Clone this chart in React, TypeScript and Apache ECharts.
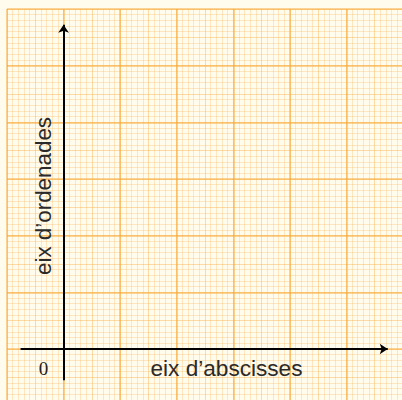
import React, { useEffect, useRef } from "react";
import * as echarts from "echarts";

const xRange = [-1, 6];
const yRange = [-1, 6];
const xAxisSegment = [[-0.76, 0], [5.73, 0]];
const yAxisSegment = [[0, -0.55], [0, 5.72]];
const xTitle = "eix d\u2019abscisses";
const yTitle = "eix d\u2019ordenades";
const originLabel = "0";

const minorColor = "rgba(250,165,50,0.24)";
const mediumColor = "rgba(250,165,50,0.38)";
const majorColor = "rgba(248,165,45,0.62)";

function paperAxis(dir: "x" | "y", range: number[], level: "fine" | "major") {
  const base: any = {
    type: "value",
    min: range[0],
    max: range[1],
    interval: level === "fine" ? 0.5 : 1,
    axisLine: { show: false },
    axisTick: { show: false },
    axisLabel: { show: false },
    splitLine: {
      show: true,
      lineStyle: { color: level === "fine" ? mediumColor : majorColor, width: level === "fine" ? 1 : 1.6 },
    },
    z: level === "fine" ? 0 : 1,
  };
  if (level === "fine") {
    base.minorTick = { show: false, splitNumber: 5 };
    base.minorSplitLine = { show: true, lineStyle: { color: minorColor, width: 1 } };
  }
  return base;
}

export default function App() {
  const ref = useRef<HTMLDivElement>(null);
  useEffect(() => {
    if (!ref.current) return;
    const chart = echarts.init(ref.current, undefined, { renderer: "svg" });
    chart.setOption({
      animation: false,
      backgroundColor: "#fffcee",
      grid: { left: 7, top: 9, width: 396, height: 396.7 },
      xAxis: [paperAxis("x", xRange, "fine"), paperAxis("x", xRange, "major")],
      yAxis: [paperAxis("y", yRange, "fine"), paperAxis("y", yRange, "major")],
      series: [
        {
          type: "lines",
          coordinateSystem: "cartesian2d",
          xAxisIndex: 0,
          yAxisIndex: 0,
          polyline: false,
          symbol: ["none", "arrow"],
          symbolSize: 8,
          lineStyle: { color: "#000", width: 2, opacity: 1 },
          z: 5,
          data: [{ coords: xAxisSegment }, { coords: yAxisSegment }],
        },
      ],
      graphic: [
        {
          type: "text",
          x: 226.5,
          y: 380,
          z: 10,
          style: {
            text: xTitle,
            fontFamily: "Liberation Sans, Arial, sans-serif",
            fontSize: 22.6,
            fill: "#2a2a2a",
            align: "center",
            verticalAlign: "bottom",
          },
        },
        {
          type: "text",
          x: 54,
          y: 196,
          rotation: Math.PI / 2,
          z: 10,
          style: {
            text: yTitle,
            fontFamily: "Liberation Sans, Arial, sans-serif",
            fontSize: 22.4,
            fill: "#2a2a2a",
            align: "center",
            verticalAlign: "bottom",
          },
        },
        {
          type: "text",
          x: 43.5,
          y: 368.5,
          z: 10,
          style: {
            text: originLabel,
            fontFamily: "Liberation Serif, Times New Roman, serif",
            fontSize: 19,
            fill: "#222",
            align: "center",
            verticalAlign: "middle",
          },
        },
      ],
    });
    return () => chart.dispose();
  }, []);
  return (
    <div style={{ position: "fixed", left: 0, top: 0, width: 402, height: 400, overflow: "hidden" }}>
      <div ref={ref} style={{ width: 412, height: 412 }} />
    </div>
  );
}
